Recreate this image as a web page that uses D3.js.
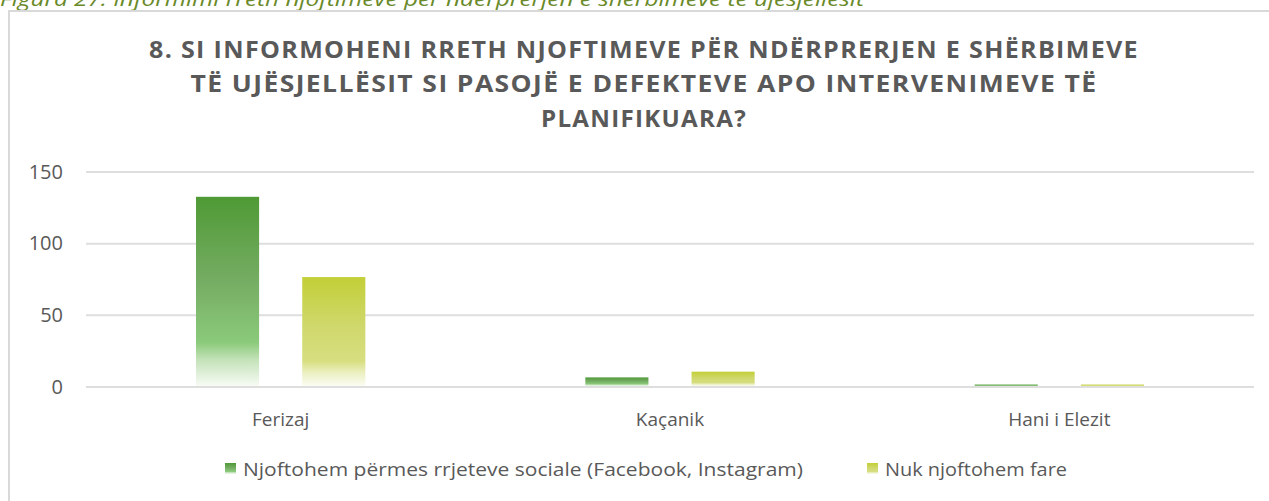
<!DOCTYPE html>
<html>
<head>
<meta charset="utf-8">
<script src="https://cdn.jsdelivr.net/npm/d3@7"></script>
<style>
  html, body { margin: 0; padding: 0; background: #fff; }
  svg { display: block; }
</style>
</head>
<body>
<svg id="chart" width="1269" height="501"></svg>
<script>
const categories = ["Ferizaj", "Kaçanik", "Hani i Elezit"];
const seriesNames = ["Njoftohem përmes rrjeteve sociale (Facebook, Instagram)", "Nuk njoftohem fare"];
const socialValues = [132, 6, 1];
const noneValues = [76, 10, 1];
const yTicks = [0, 50, 100, 150];
const titleLines = [
  "8. SI INFORMOHENI RRETH NJOFTIMEVE PËR NDËRPRERJEN E SHËRBIMEVE",
  "TË UJËSJELLËSIT SI PASOJË E DEFEKTEVE APO INTERVENIMEVE TË",
  "PLANIFIKUARA?"
];
const captionText = "Figura 27: Informimi rreth njoftimeve për ndërprerjen e shërbimeve të ujësjellësit";

const seriesValues = [socialValues, noneValues];

const svg = d3.select("#chart");
const defs = svg.append("defs");

const gradSpecs = [
  { id: "gGreen", stops: [[0, "#4f9a35"], [0.45, "#76ad64"], [0.77, "#8bca7a"], [0.86, "#c3e2b8"], [1, "#f7fbf5"]] },
  { id: "gYellow", stops: [[0, "#c3cf37"], [0.45, "#cfd86c"], [0.77, "#d7de80"], [0.88, "#ecf0c2"], [1, "#fbfcf3"]] }
];
gradSpecs.forEach(g => {
  const lg = defs.append("linearGradient").attr("id", g.id)
    .attr("x1", 0).attr("y1", 0).attr("x2", 0).attr("y2", 1);
  g.stops.forEach(s => lg.append("stop").attr("offset", s[0]).attr("stop-color", s[1]));
});

// caption (partially clipped at top, as in the reference)
svg.append("text")
  .attr("x", 0).attr("y", 6)
  .attr("font-family", "Open Sans")
  .attr("font-style", "italic")
  .attr("font-size", 20)
  .attr("fill", "#6a8a2a")
  .attr("textLength", 864)
  .attr("lengthAdjust", "spacingAndGlyphs")
  .text(captionText);

// chart border
svg.append("rect")
  .attr("x", 9).attr("y", 11)
  .attr("width", 1280).attr("height", 520)
  .attr("fill", "none")
  .attr("stroke", "#d9d9d9")
  .attr("stroke-width", 2);

// title
const titleWidths = [990, 907, 206];
const titleY = [58, 92, 127];
titleLines.forEach((t, i) => {
  svg.append("text")
    .attr("x", 644).attr("y", titleY[i])
    .attr("text-anchor", "middle")
    .attr("font-family", "Open Sans")
    .attr("font-weight", "bold")
    .attr("font-size", 22.5)
    .attr("letter-spacing", 1.2)
    .attr("fill", "#595959")
    .attr("textLength", titleWidths[i])
    .attr("lengthAdjust", "spacingAndGlyphs")
    .text(t);
});

const plotLeft = 86, plotRight = 1254;
const x0 = d3.scaleBand().domain(categories).range([plotLeft, plotRight]).paddingInner(0).paddingOuter(0);
const groupInset = 110;
const x1 = d3.scaleBand().domain([0, 1])
  .range([groupInset, x0.bandwidth() - groupInset])
  .paddingInner(0.406).paddingOuter(0);
const y = d3.scaleLinear().domain([0, 150]).range([386, 171]);

// gridlines
svg.append("g").selectAll("line").data(yTicks).join("line")
  .attr("x1", plotLeft).attr("x2", plotRight)
  .attr("y1", d => y(d) + 1).attr("y2", d => y(d) + 1)
  .attr("stroke", "#dedede")
  .attr("stroke-width", 2);

// y axis labels
const yAxis = d3.axisLeft(y).tickValues(yTicks).tickSize(0).tickPadding(0);
const yg = svg.append("g").attr("transform", "translate(63,0)").call(yAxis);
yg.select(".domain").remove();
yg.selectAll("text")
  .attr("font-family", "Open Sans")
  .attr("font-size", 20)
  .attr("fill", "#595959")
  .attr("dy", "0.36em");

// bars
const groups = svg.append("g").selectAll("g").data(categories).join("g")
  .attr("transform", d => `translate(${x0(d)},0)`);
groups.selectAll("rect")
  .data((c, ci) => seriesValues.map((vals, si) => ({ si, v: vals[ci] })))
  .join("rect")
  .attr("x", d => x1(d.si))
  .attr("width", x1.bandwidth())
  .attr("y", d => y(d.v))
  .attr("height", d => y(0) - y(d.v))
  .attr("fill", d => `url(#${gradSpecs[d.si].id})`);

// x axis labels
const xAxis = d3.axisBottom(x0).tickSize(0).tickPadding(0);
const xg = svg.append("g").attr("transform", "translate(0,426)").call(xAxis);
xg.select(".domain").remove();
xg.selectAll("text")
  .attr("font-family", "Open Sans")
  .attr("font-size", 19)
  .attr("fill", "#595959")
  .attr("dy", 0);

// legend
const legendX = [225, 867];
const legendW = [560, 182];
const lg = svg.append("g").selectAll("g").data(seriesNames).join("g")
  .attr("transform", (d, i) => `translate(${legendX[i]},463)`);
lg.append("rect")
  .attr("x", 0).attr("y", 0).attr("width", 11).attr("height", 11)
  .attr("fill", (d, i) => `url(#${gradSpecs[i].id})`);
lg.append("text")
  .attr("x", 18).attr("y", 13)
  .attr("font-family", "Open Sans")
  .attr("font-size", 19)
  .attr("fill", "#595959")
  .attr("textLength", (d, i) => legendW[i])
  .attr("lengthAdjust", "spacingAndGlyphs")
  .text(d => d);
</script>
</body>
</html>
